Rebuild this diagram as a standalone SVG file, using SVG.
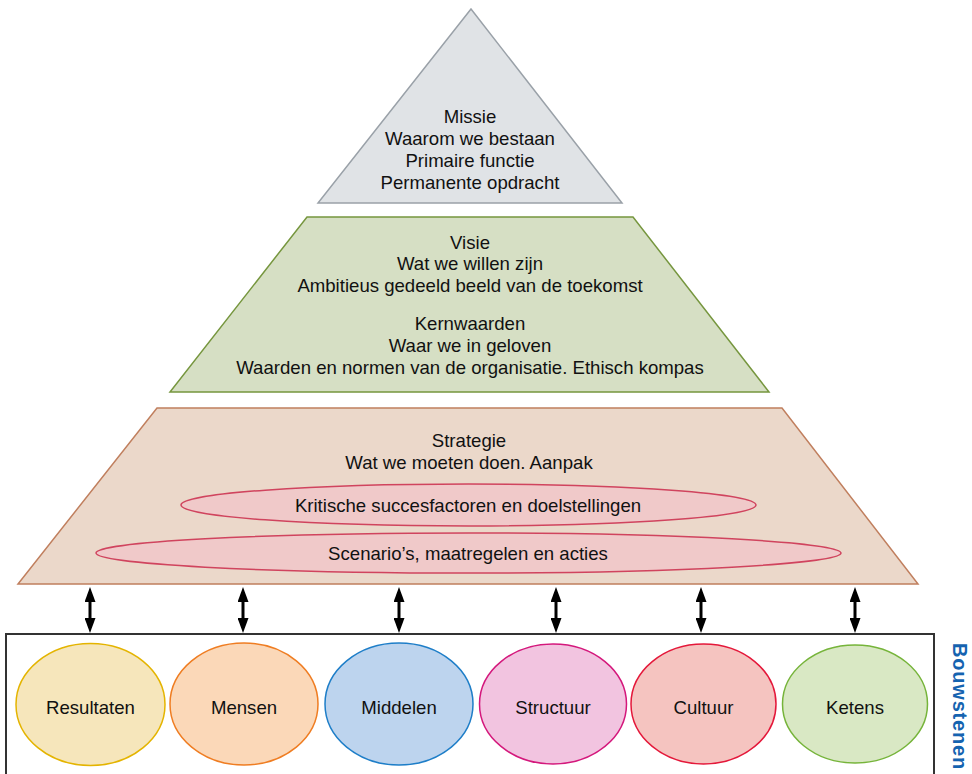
<svg xmlns="http://www.w3.org/2000/svg" width="972" height="774" viewBox="0 0 972 774">
<defs>
<style>
text{font-family:"Liberation Sans",Arial,sans-serif;font-size:18.6px;fill:#111;text-anchor:middle}
.tier{stroke-width:1.5}
.bb{stroke-width:1.5}
.lbl{font-size:18.6px}
.bw{font-weight:bold;font-size:20px;fill:#1563b0;letter-spacing:0.8px}
.arr{stroke:#000;stroke-width:3;fill:none;marker-start:url(#ah);marker-end:url(#ah)}
</style>
<marker id="ah" markerUnits="userSpaceOnUse" markerWidth="15" markerHeight="11" viewBox="0 0 15 11" refX="10" refY="5.5" orient="auto-start-reverse">
<path d="M0,0 L15,5.5 L0,11 z" fill="#000"/>
</marker>
</defs>
<rect width="972" height="774" fill="#fff"/>

<g id="missie">
<polygon class="tier" points="471,9 622,203 318,203" fill="#e0e3e6" stroke="#9aa1a8"/>
<text x="470" y="123">Missie</text>
<text x="470" y="145">Waarom we bestaan</text>
<text x="470" y="167">Primaire functie</text>
<text x="470" y="189">Permanente opdracht</text>
</g>

<g id="visie">
<polygon class="tier" points="307,217 633,217 769,392 170,392" fill="#d6dfc4" stroke="#76963e"/>
<text x="470" y="249">Visie</text>
<text x="470" y="270">Wat we willen zijn</text>
<text x="470" y="292">Ambitieus gedeeld beeld van de toekomst</text>
<text x="470" y="330">Kernwaarden</text>
<text x="470" y="352">Waar we in geloven</text>
<text x="470" y="374">Waarden en normen van de organisatie. Ethisch kompas</text>
</g>

<g id="strategie">
<polygon class="tier" points="157,408 782,408 918,584 18,584" fill="#ebd8ca" stroke="#c07f5e"/>
<text x="469" y="447">Strategie</text>
<text x="469" y="469">Wat we moeten doen. Aanpak</text>
</g>

<g id="ksf">
<ellipse cx="468.5" cy="505" rx="287.5" ry="21" fill="#f0c9c9" stroke="#d0445e" stroke-width="1.5"/>
<text x="468" y="512">Kritische succesfactoren en doelstellingen</text>
</g>

<g id="scenarios">
<ellipse cx="468.5" cy="553" rx="372.5" ry="20" fill="#f0c9c9" stroke="#d0445e" stroke-width="1.5"/>
<text x="468" y="560">Scenario’s, maatregelen en acties</text>
</g>

<g id="connectors">
<line class="arr" x1="90" y1="592" x2="90" y2="628"/>
<line class="arr" x1="243" y1="592" x2="243" y2="628"/>
<line class="arr" x1="399" y1="592" x2="399" y2="628"/>
<line class="arr" x1="556" y1="592" x2="556" y2="628"/>
<line class="arr" x1="701" y1="592" x2="701" y2="628"/>
<line class="arr" x1="855" y1="592" x2="855" y2="628"/>
</g>

<g id="bouwstenen">
<rect x="6" y="634" width="928" height="150" fill="none" stroke="#333" stroke-width="2"/>
<text class="bw" transform="translate(953,706.5) rotate(90)" x="0" y="0">Bouwstenen</text>
</g>

<g id="resultaten">
<ellipse class="bb" cx="90.5" cy="704.5" rx="74.5" ry="61" fill="#f6e6bb" stroke="#e4b400"/>
<text class="lbl" x="90.5" y="714">Resultaten</text>
</g>
<g id="mensen">
<ellipse class="bb" cx="244" cy="704" rx="74" ry="61" fill="#fbd8b8" stroke="#ef7d22"/>
<text class="lbl" x="244" y="714">Mensen</text>
</g>
<g id="middelen">
<ellipse class="bb" cx="399" cy="704" rx="74" ry="61" fill="#bdd4ee" stroke="#1e7ec8"/>
<text class="lbl" x="399" y="714">Middelen</text>
</g>
<g id="structuur">
<ellipse class="bb" cx="553" cy="704" rx="73.5" ry="60" fill="#f2c4e0" stroke="#d4187c"/>
<text class="lbl" x="553" y="714">Structuur</text>
</g>
<g id="cultuur">
<ellipse class="bb" cx="703.5" cy="704" rx="72.5" ry="60" fill="#f5c4c0" stroke="#e4183a"/>
<text class="lbl" x="703.5" y="714">Cultuur</text>
</g>
<g id="ketens">
<ellipse class="bb" cx="855" cy="704" rx="72.5" ry="59" fill="#d9e8c4" stroke="#76b43a"/>
<text class="lbl" x="855" y="714">Ketens</text>
</g>
</svg>
